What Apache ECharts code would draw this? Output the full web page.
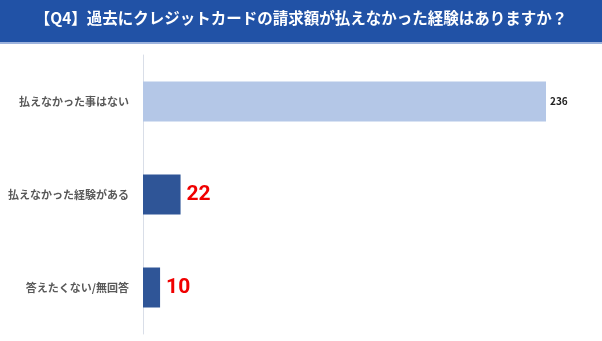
<!DOCTYPE html>
<html><head><meta charset="utf-8">
<script src="https://cdn.jsdelivr.net/npm/echarts@6/dist/echarts.min.js"></script>
<style>html,body{margin:0;padding:0;background:#fff}#c{width:602px;height:341px}</style>
</head><body><div id="c"></div>
<script>
const titleText = '【Q4】過去にクレジットカードの請求額が払えなかった経験はありますか？';
const categories = ['払えなかった事はない', '払えなかった経験がある', '答えたくない/無回答'];
const values = [236, 22, 10];
const barColors = ['#B4C7E7', '#2F5597', '#2F5597'];

const chart = echarts.init(document.getElementById('c'));
const font = '"Noto Sans CJK JP", "Noto Sans", sans-serif';
chart.setOption({
  animation: false,
  graphic: [
    {type: 'rect', shape: {x: 0, y: 0, width: 602, height: 42}, style: {fill: '#2152A6'}, z: 0},
    {type: 'rect', shape: {x: 0, y: 42, width: 602, height: 2}, style: {fill: '#9DB3DD'}, z: 0},
    {type: 'text', left: 'center', top: 10, style: {text: titleText, fill: '#fff', font: 'bold 15.5px ' + font}, z: 1}
  ],
  grid: {left: 143, top: 55, bottom: 7, width: 444, containLabel: false},
  xAxis: {type: 'value', min: 0, max: 260, show: false},
  yAxis: {
    type: 'category', data: categories, inverse: true,
    axisLine: {show: true, lineStyle: {color: '#D9DEE8', width: 1}},
    axisTick: {show: false},
    axisLabel: {color: '#595959', fontFamily: font, fontSize: 11, fontWeight: 'bold', margin: 14}
  },
  series: [{
    type: 'bar', barWidth: 40,
    data: values.map((v, i) => ({
      value: v,
      itemStyle: {color: barColors[i]},
      label: i === 0
        ? {show: true, position: 'right', distance: 4, color: '#222', fontSize: 10, fontWeight: 'bold', fontFamily: font}
        : {show: true, position: 'right', distance: 6, color: '#F00000', fontSize: 21, fontWeight: 'bold', fontFamily: 'Roboto, "Noto Sans", sans-serif'}
    }))
  }]
});
</script></body></html>
